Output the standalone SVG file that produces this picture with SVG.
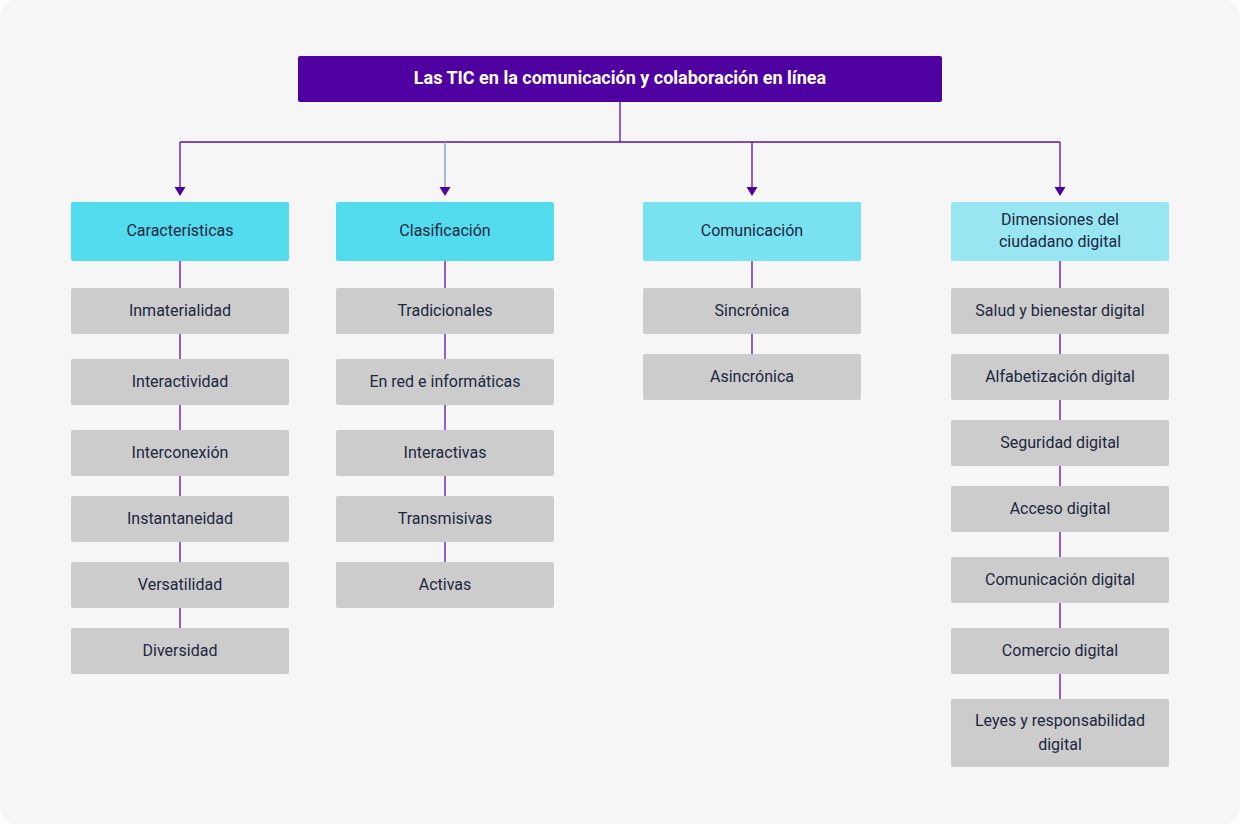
<svg xmlns="http://www.w3.org/2000/svg" width="1240" height="824" viewBox="0 0 1240 824">
<style>
text{font-family:Roboto,"Liberation Sans",Arial,sans-serif;font-size:16px;fill:#1c2740;text-anchor:middle;dominant-baseline:central}
.title{font-size:18px;font-weight:bold;fill:#ffffff}
.leaf{fill:#cccccc}
.ln{stroke:#5a10b0;stroke-width:1.3;fill:none}
.ah{fill:#4e00a0}
</style>
<rect x="0" y="0" width="1240" height="824" fill="#ffffff"/>
<rect x="0" y="0" width="1240" height="824" rx="16" fill="#f6f6f6"/>
<g id="connectors">
<path class="ln" d="M620,102 V142 M180,142 H1060"/>
<path class="ln" d="M180,142 V188"/>
<path class="ah" d="M174.5,187 L185.5,187 L180,196 Z"/>
<line x1="445" y1="142" x2="445" y2="188" stroke="#8fa3b5" stroke-width="1.5"/>
<path class="ah" d="M439.5,187 L450.5,187 L445,196 Z"/>
<path class="ln" d="M752,142 V188"/>
<path class="ah" d="M746.5,187 L757.5,187 L752,196 Z"/>
<path class="ln" d="M1060,142 V188"/>
<path class="ah" d="M1054.5,187 L1065.5,187 L1060,196 Z"/>
<path class="ln" d="M180,261 V628"/>
<path class="ln" d="M445,261 V562"/>
<path class="ln" d="M752,261 V354"/>
<path class="ln" d="M1060,261 V699"/>
</g>
<g id="root"><rect x="298" y="56" width="644" height="46" rx="2" fill="#4e00a0"/><text class="title" x="620" y="77">Las TIC en la comunicación y colaboración en línea</text></g>
<g id="caracteristicas"><rect x="71" y="202" width="218" height="59" rx="2" fill="#52dcee"/><text x="180" y="230">Características</text></g>
<g id="clasificacion"><rect x="336" y="202" width="218" height="59" rx="2" fill="#52dcee"/><text x="445" y="230">Clasificación</text></g>
<g id="comunicacion"><rect x="643" y="202" width="218" height="59" rx="2" fill="#78e2f0"/><text x="752" y="230">Comunicación</text></g>
<g id="dimensiones"><rect x="951" y="202" width="218" height="59" rx="2" fill="#98e6f2"/><text x="1060" y="219">Dimensiones del</text><text x="1060" y="241">ciudadano digital</text></g>
<g id="inmaterialidad"><rect class="leaf" x="71" y="288" width="218" height="46" rx="2"/><text x="180" y="310">Inmaterialidad</text></g>
<g id="interactividad"><rect class="leaf" x="71" y="359" width="218" height="46" rx="2"/><text x="180" y="381">Interactividad</text></g>
<g id="interconexion"><rect class="leaf" x="71" y="430" width="218" height="46" rx="2"/><text x="180" y="452">Interconexión</text></g>
<g id="instantaneidad"><rect class="leaf" x="71" y="496" width="218" height="46" rx="2"/><text x="180" y="518">Instantaneidad</text></g>
<g id="versatilidad"><rect class="leaf" x="71" y="562" width="218" height="46" rx="2"/><text x="180" y="584">Versatilidad</text></g>
<g id="diversidad"><rect class="leaf" x="71" y="628" width="218" height="46" rx="2"/><text x="180" y="650">Diversidad</text></g>
<g id="tradicionales"><rect class="leaf" x="336" y="288" width="218" height="46" rx="2"/><text x="445" y="310">Tradicionales</text></g>
<g id="enred"><rect class="leaf" x="336" y="359" width="218" height="46" rx="2"/><text x="445" y="381">En red e informáticas</text></g>
<g id="interactivas"><rect class="leaf" x="336" y="430" width="218" height="46" rx="2"/><text x="445" y="452">Interactivas</text></g>
<g id="transmisivas"><rect class="leaf" x="336" y="496" width="218" height="46" rx="2"/><text x="445" y="518">Transmisivas</text></g>
<g id="activas"><rect class="leaf" x="336" y="562" width="218" height="46" rx="2"/><text x="445" y="584">Activas</text></g>
<g id="sincronica"><rect class="leaf" x="643" y="288" width="218" height="46" rx="2"/><text x="752" y="310">Sincrónica</text></g>
<g id="asincronica"><rect class="leaf" x="643" y="354" width="218" height="46" rx="2"/><text x="752" y="376">Asincrónica</text></g>
<g id="salud"><rect class="leaf" x="951" y="288" width="218" height="46" rx="2"/><text x="1060" y="310">Salud y bienestar digital</text></g>
<g id="alfabetizacion"><rect class="leaf" x="951" y="354" width="218" height="46" rx="2"/><text x="1060" y="376">Alfabetización digital</text></g>
<g id="seguridad"><rect class="leaf" x="951" y="420" width="218" height="46" rx="2"/><text x="1060" y="442">Seguridad digital</text></g>
<g id="acceso"><rect class="leaf" x="951" y="486" width="218" height="46" rx="2"/><text x="1060" y="508">Acceso digital</text></g>
<g id="comdigital"><rect class="leaf" x="951" y="557" width="218" height="46" rx="2"/><text x="1060" y="579">Comunicación digital</text></g>
<g id="comercio"><rect class="leaf" x="951" y="628" width="218" height="46" rx="2"/><text x="1060" y="650">Comercio digital</text></g>
<g id="leyes"><rect class="leaf" x="951" y="699" width="218" height="68" rx="2"/><text x="1060" y="720">Leyes y responsabilidad</text><text x="1060" y="744">digital</text></g>
</svg>
